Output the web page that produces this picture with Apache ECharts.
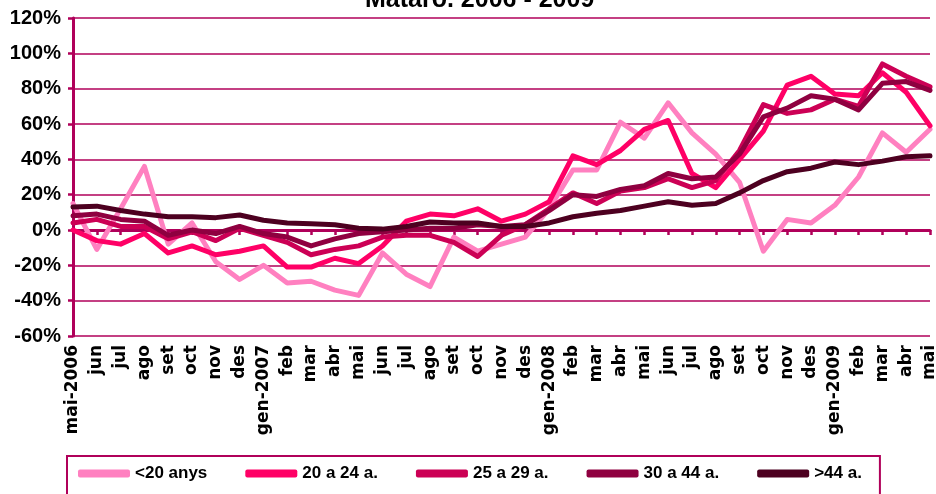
<!DOCTYPE html>
<html>
<head>
<meta charset="utf-8">
<script src="https://cdn.jsdelivr.net/npm/echarts@6/dist/echarts.min.js"></script>
<style>
html,body{margin:0;padding:0;background:#fff;}
#chart{width:936px;height:494px;}
</style>
</head>
<body>
<div id="chart"></div>
<script>
// categories (months) and series values, in %
var months = ['mai-2006','jun','jul','ago','set','oct','nov','des','gen-2007','feb','mar','abr','mai','jun','jul','ago','set','oct','nov','des','gen-2008','feb','mar','abr','mai','jun','jul','ago','set','oct','nov','des','gen-2009','feb','mar','abr','mai'];
var seriesNames = ['<20 anys','20 a 24 a.','25 a 29 a.','30 a 44 a.','>44 a.'];
var under20 = [15,-11,12,36,-8,4,-18,-28,-20,-30,-29,-34,-37,-13,-25,-32,-4,-12,-8,-4,12,34,34,61,52,72,55,43,27,-12,6,4,14,30,55,44,57];
var age20_24 = [0,-6,-8,-2,-13,-9,-14,-12,-9,-21,-21,-16,-19,-9,5,9,8,12,5,9,16,42,37,45,57,62,32,24,40,56,82,87,77,76,89,78,59];
var age25_29 = [4,6,2,2,-5,-1,-6,1,-3,-7,-14,-11,-9,-4,-3,-3,-7,-15,-3,3,12,21,15,22,24,29,24,28,45,71,66,68,74,70,94,87,81];
var age30_44 = [8,9,6,5,-3,0,-2,2,-2,-4,-9,-5,-2,-1,0,1,1,3,2,3,11,20,19,23,25,32,29,30,43,64,69,76,74,68,83,84,79];
var over44 = [13,13.5,11,9,7.5,7.5,7,8.5,5.5,4,3.5,3,1,0.5,2,4.5,4,4,2,2,4,7.5,9.5,11,13.5,16,14,15,21,28,33,35,38.5,37,39,41.5,42];

var colors = ['#FF80C0','#FF0066','#CC0055','#8F0040','#4D0020'];
var axisColor = '#B0005A';

var allData = [under20, age20_24, age25_29, age30_44, over44];

var chart = echarts.init(document.getElementById('chart'));

var series = [];
for (var i = 0; i < allData.length; i++) {
	series.push({
		name: seriesNames[i],
		type: 'line',
		data: allData[i],
		symbol: 'none',
		color: colors[i],
		lineStyle: {width: 5, color: colors[i], cap: 'round', join: 'round'}
	});
}

chart.setOption({
	animation: false,
	title: {
		text: 'Mataró. 2006 - 2009',
		left: 360,
		top: -17,
		textStyle: {fontFamily: 'Liberation Sans, Arial', fontSize: 25, fontWeight: 'bold', color: '#000'}
	},
	grid: {left: 73, right: 6, top: 18, bottom: 158, outerBoundsMode: 'none'},
	legend: {
		data: seriesNames,
		left: 67,
		top: 456,
		orient: 'horizontal',
		icon: 'roundRect',
		itemWidth: 52,
		itemHeight: 8,
		itemGap: 38,
		padding: [9, 18, 30, 11],
		borderColor: axisColor,
		borderWidth: 2,
		textStyle: {fontFamily: 'Liberation Sans, Arial', fontSize: 17, fontWeight: 'bold', color: '#000'}
	},
	xAxis: {
		type: 'category',
		data: months,
		boundaryGap: false,
		axisLine: {onZero: true, lineStyle: {color: axisColor, width: 3}},
		axisTick: {show: true, interval: 0, length: 5, lineStyle: {color: axisColor, width: 2.5}},
		axisLabel: {
			interval: 0,
			rotate: 90,
			margin: 9,
			fontFamily: 'DejaVu Sans',
			fontSize: 17,
			fontWeight: 'bold',
			color: '#000'
		},
		splitLine: {show: false}
	},
	yAxis: {
		type: 'value',
		min: -60,
		max: 120,
		interval: 20,
		axisLine: {show: true, lineStyle: {color: axisColor, width: 3}},
		axisTick: {show: true, length: 5, lineStyle: {color: axisColor, width: 2.5}},
		axisLabel: {
			formatter: '{value}%',
			margin: 12,
			fontFamily: 'Liberation Sans, Arial',
			fontSize: 20,
			fontWeight: 'bold',
			color: '#000'
		},
		splitLine: {show: true, lineStyle: {color: axisColor, width: 1.5}}
	},
	series: series
});
</script>
</body>
</html>
